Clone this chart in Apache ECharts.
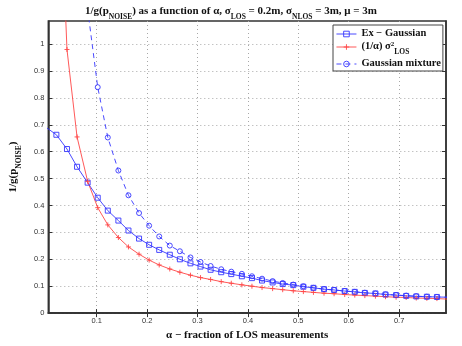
<!DOCTYPE html>
<html>
<head>
<meta charset="utf-8">
<script src="https://cdn.jsdelivr.net/npm/echarts@6/dist/echarts.min.js"></script>
<style>
  html, body { margin: 0; padding: 0; background: #fff; }
  #main { width: 462px; height: 346px; }
</style>
</head>
<body>
<div id="main"></div>
<script>
// alpha samples (x) and the three curves
var alpha = [0.000, 0.020, 0.041, 0.061, 0.082, 0.102, 0.122, 0.143, 0.163, 0.184,
             0.204, 0.224, 0.245, 0.265, 0.286, 0.306, 0.326, 0.347, 0.367, 0.388,
             0.408, 0.428, 0.449, 0.469, 0.490, 0.510, 0.530, 0.551, 0.571, 0.592,
             0.612, 0.632, 0.653, 0.673, 0.694, 0.714, 0.734, 0.755, 0.775, 0.796];

var exGauss = [0.690, 0.663, 0.610, 0.544, 0.485, 0.429, 0.381, 0.344, 0.307, 0.277,
               0.254, 0.235, 0.217, 0.200, 0.185, 0.173, 0.161, 0.152, 0.145, 0.137,
               0.130, 0.121, 0.114, 0.108, 0.104, 0.098, 0.094, 0.089, 0.086, 0.082,
               0.079, 0.075, 0.073, 0.069, 0.067, 0.064, 0.062, 0.061, 0.060, 0.059];

var sigmaLos = [null, 1.960, 0.980, 0.655, 0.490, 0.392, 0.328, 0.281, 0.246, 0.219,
                0.197, 0.179, 0.164, 0.152, 0.141, 0.132, 0.125, 0.117, 0.111, 0.105,
                0.100, 0.095, 0.091, 0.087, 0.083, 0.080, 0.077, 0.074, 0.072, 0.069,
                0.067, 0.065, 0.063, 0.061, 0.059, 0.058, 0.056, 0.055, 0.054, 0.052];

var gaussMix = [null, null, null, 1.700, 1.130, 0.840, 0.653, 0.530, 0.438, 0.372,
                0.325, 0.285, 0.251, 0.230, 0.207, 0.190, 0.175, 0.163, 0.154, 0.146,
                0.137, 0.128, 0.119, 0.112, 0.106, 0.100, 0.094, 0.089, 0.086, 0.082,
                0.079, 0.076, 0.073, 0.070, 0.067, 0.065, 0.063, 0.061, 0.060, 0.059];

var xTicks = [0.1, 0.2, 0.3, 0.4, 0.5, 0.6, 0.7];
var yTicks = [0, 0.1, 0.2, 0.3, 0.4, 0.5, 0.6, 0.7, 0.8, 0.9, 1];

function pairs(ys) {
    var out = [];
    for (var i = 0; i < alpha.length; i++) {
        if (ys[i] !== null) out.push([alpha[i], ys[i]]);
    }
    return out;
}

var serif = 'Liberation Serif';
var blue = '#3535ff';
var red = '#ff4646';

// hollow marker outlines (stroked paths keep the thin MATLAB look)
var squareMark = 'path://M0,0H10V10H0Z';
var circleMark = 'path://M10,5A5,5,0,1,1,0,5A5,5,0,1,1,10,5Z';
var plusMark = 'path://M5,0V10M0,5H10';

var chart = echarts.init(document.getElementById('main'), null, { renderer: 'canvas' });

var axisLine = { lineStyle: { color: '#333', width: 1.5 } };
var gridLine = { show: true, lineStyle: { type: [1, 3], color: '#a8a8a8', width: 1 } };
var rich = {
    b: { fontFamily: serif, fontWeight: 'bold', fontSize: 11, color: '#111', lineHeight: 12, verticalAlign: 'top' },
    sup: { fontFamily: serif, fontWeight: 'bold', fontSize: 7, color: '#111', lineHeight: 8, verticalAlign: 'top' },
    s: { fontFamily: serif, fontWeight: 'bold', fontSize: 7.5, color: '#111', lineHeight: 8, padding: [7, 0, 0, 0], verticalAlign: 'top' }
};
var legendRich = {
    b: { fontFamily: serif, fontWeight: 'bold', fontSize: 10.5, color: '#111', lineHeight: 12, verticalAlign: 'top' },
    sup: { fontFamily: serif, fontWeight: 'bold', fontSize: 7, color: '#111', lineHeight: 8, verticalAlign: 'top' },
    s: { fontFamily: serif, fontWeight: 'bold', fontSize: 7.5, color: '#111', lineHeight: 8, padding: [7, 0, 0, 0], verticalAlign: 'top' }
};

var option = {
    backgroundColor: '#fff',
    animation: false,
    title: {
        text: '{b|1/g(p}{s|NOISE}{b|) as a function of α, σ}{s|LOS}{b| = 0.2m, σ}{s|NLOS}{b| = 3m, μ = 3m}',
        left: 'center',
        top: 1,
        textStyle: { rich: rich }
    },
    grid: { left: 32, right: 16, top: 21, bottom: 21, show: true, borderColor: '#333', borderWidth: 1.5 },
    legend: {
        orient: 'vertical',
        left: 333,
        top: 25,
        padding: [3, 2, 2, 3],
        itemGap: 2,
        itemWidth: 20,
        itemHeight: 7,
        backgroundColor: '#fff',
        borderColor: '#444',
        borderWidth: 1,
        borderRadius: 0,
        itemStyle: { color: 'rgba(0,0,0,0)', borderWidth: 0.9 },
        lineStyle: { width: 0.9 },
        formatter: function (name) {
            if (name === 'sigma') return '{b|(1/α) σ}{sup|2}{s|LOS}';
            return '{b|' + name + '}';
        },
        textStyle: { rich: legendRich },
        data: ['Ex − Gaussian', 'sigma', 'Gaussian mixture']
    },
    xAxis: [{
        type: 'value',
        min: 0.004,
        max: 0.793,
        position: 'bottom',
        name: 'α − fraction of LOS measurements',
        nameLocation: 'middle',
        nameGap: 11,
        nameTextStyle: { fontFamily: serif, fontWeight: 'bold', fontSize: 11, color: '#111' },
        axisLine: axisLine,
        axisTick: { inside: true, length: 4, lineStyle: { color: '#333' }, customValues: xTicks },
        axisLabel: { customValues: xTicks, fontFamily: 'Liberation Sans', fontSize: 7.5, color: '#333', margin: 4 },
        splitLine: gridLine
    }, {
        type: 'value',
        min: 0.004,
        max: 0.793,
        position: 'top',
        axisLine: axisLine,
        axisTick: { inside: true, length: 4, lineStyle: { color: '#333' }, customValues: xTicks },
        axisLabel: { show: false },
        splitLine: { show: false }
    }],
    yAxis: [{
        type: 'value',
        min: 0,
        max: 1.086,
        position: 'left',
        name: '{b|1/g(p}{s|NOISE}{b|)}',
        nameLocation: 'middle',
        nameGap: 19,
        nameRotate: 90,
        nameTextStyle: { rich: rich },
        axisLine: axisLine,
        axisTick: { inside: true, length: 4, lineStyle: { color: '#333' }, customValues: yTicks },
        axisLabel: { customValues: yTicks, fontFamily: 'Liberation Sans', fontSize: 7.5, color: '#333', margin: 4 },
        splitLine: gridLine
    }, {
        type: 'value',
        min: 0,
        max: 1.086,
        position: 'right',
        axisLine: axisLine,
        axisTick: { inside: true, length: 4, lineStyle: { color: '#333' }, customValues: yTicks },
        axisLabel: { show: false },
        splitLine: { show: false }
    }],
    series: [{
        name: 'Ex − Gaussian',
        type: 'line',
        data: pairs(exGauss),
        clip: true,
        symbol: squareMark,
        symbolSize: 5,
        lineStyle: { color: blue, width: 0.9 },
        itemStyle: { color: 'none', borderColor: blue, borderWidth: 0.9 }
    }, {
        name: 'sigma',
        type: 'line',
        data: pairs(sigmaLos),
        clip: true,
        symbol: plusMark,
        symbolSize: 5,
        lineStyle: { color: red, width: 0.9 },
        itemStyle: { color: 'none', borderColor: red, borderWidth: 0.9 }
    }, {
        name: 'Gaussian mixture',
        type: 'line',
        data: pairs(gaussMix),
        clip: true,
        symbol: circleMark,
        symbolSize: 5,
        lineStyle: { color: blue, width: 0.9, type: [5, 4] },
        itemStyle: { color: 'none', borderColor: blue, borderWidth: 0.9 }
    }]
};

chart.setOption(option);
</script>
</body>
</html>
